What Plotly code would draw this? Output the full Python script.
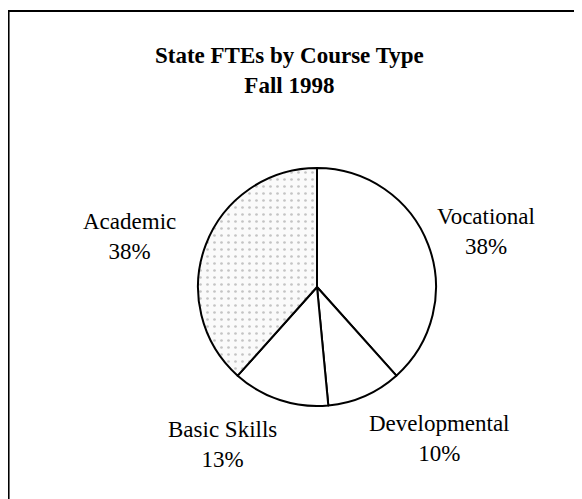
import plotly.graph_objects as go

# data
course_types = ["Vocational", "Developmental", "Basic Skills", "Academic"]
fte_share = [38, 10, 13, 38]

title_lines = ["State FTEs by Course Type", "Fall 1998"]

# the page body adds an 8px margin, so the figure is a bit smaller
# and all pixel positions below are screen positions minus that offset
OFF = 8
W, H = 582 - OFF, 499 - OFF
SERIF = "Liberation Serif, Times New Roman, serif"


def px(x):
    return (x - OFF) / W


def py(y):
    return 1 - (y - OFF) / H


# pie centre and radius (screen pixels)
cx, cy, r = 317, 287, 119

# label block centres (screen pixels), same order as course_types
label_pos = [(486, 231), (439, 438), (222, 444), (129, 237)]

fig = go.Figure()

fig.add_trace(go.Pie(
    labels=course_types,
    values=fte_share,
    sort=False,
    direction="clockwise",
    rotation=0,
    textinfo="none",
    hoverinfo="label+percent",
    marker=dict(
        colors=["white", "white", "white", "white"],
        line=dict(color="black", width=2),
        pattern=dict(shape=["", "", "", "."], fgcolor="#c4c4c4",
                     bgcolor="#fafafa", size=7, solidity=0.12),
    ),
    domain=dict(x=[px(cx - r), px(cx + r)],
                y=[py(cy + r), py(cy - r)]),
    showlegend=False,
))

annotations = []
for name, val, (lx, ly) in zip(course_types, fte_share, label_pos):
    annotations.append(dict(
        text=f"{name}<br>{val}%",
        x=px(lx), y=py(ly), xref="paper", yref="paper",
        xanchor="center", yanchor="middle", showarrow=False,
        font=dict(family=SERIF, size=23, color="black"),
    ))

annotations.append(dict(
    text="<b>" + "<br>".join(title_lines) + "</b>",
    x=px(289), y=py(70), xref="paper", yref="paper",
    xanchor="center", yanchor="middle", showarrow=False,
    font=dict(family=SERIF, size=23, color="black"),
))

fig.update_layout(
    width=W, height=H,
    margin=dict(l=0, r=0, t=0, b=0),
    paper_bgcolor="white",
    plot_bgcolor="white",
    annotations=annotations,
    shapes=[
        dict(type="line", xref="paper", yref="paper",
             x0=0, x1=1, y0=py(11), y1=py(11),
             line=dict(color="black", width=2)),
        dict(type="line", xref="paper", yref="paper",
             x0=0.001, x1=0.001, y0=0, y1=py(11),
             line=dict(color="black", width=2)),
    ],
)

fig.write_html("out.html")
